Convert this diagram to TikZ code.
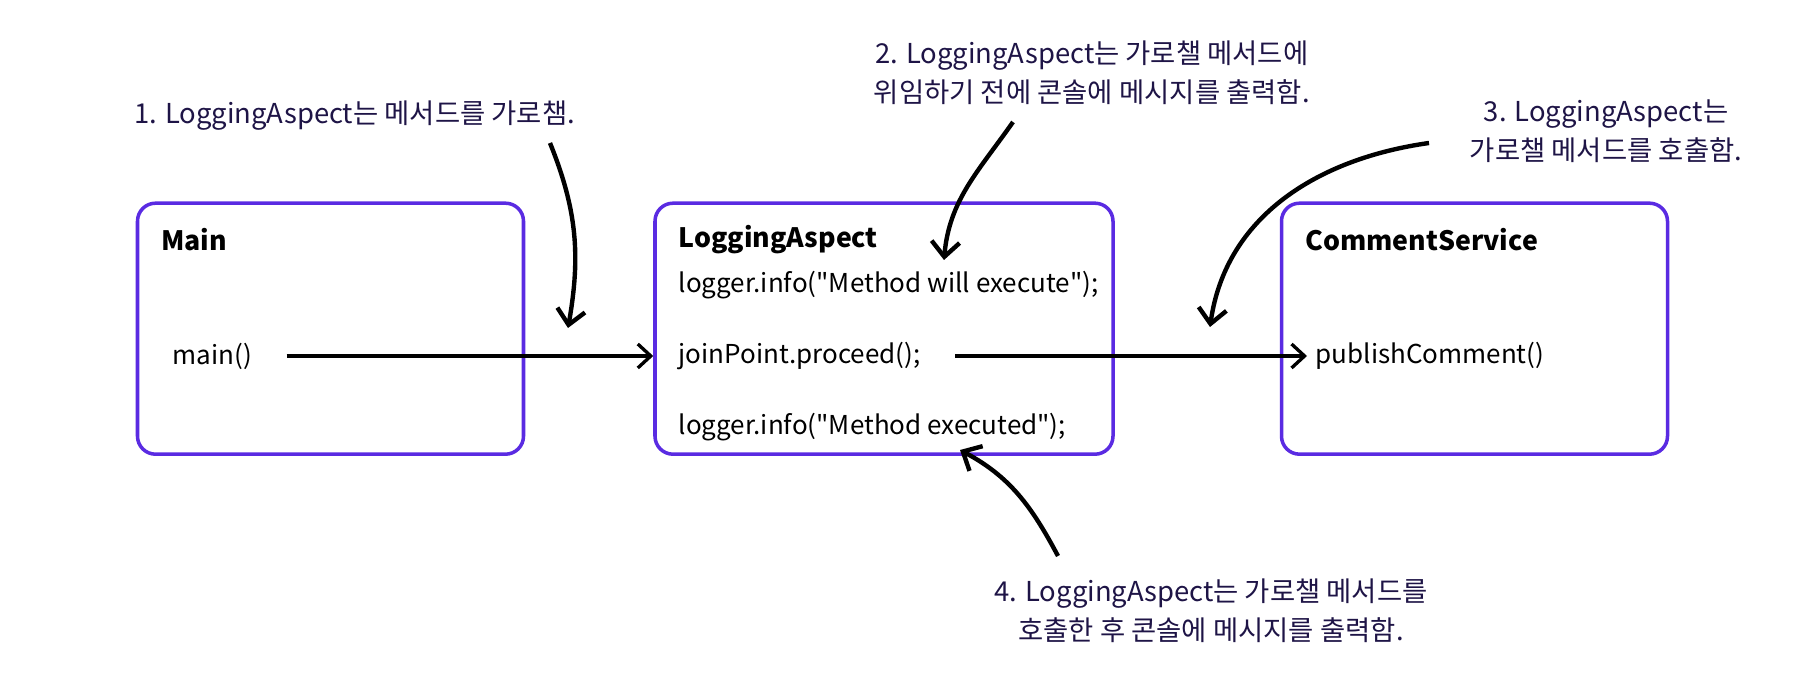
\documentclass[tikz,border=0pt]{standalone}
\usepackage{fontspec}
\setmainfont{Noto Sans CJK KR}
\usepackage{tikz}
\usepackage{xcolor}
\usetikzlibrary{arrows.meta}
\definecolor{boxpurple}{HTML}{5A2BE2}
\definecolor{notenavy}{HTML}{1E1446}

\begin{document}
\begin{tikzpicture}[
    box/.style={
        rectangle,
        rounded corners=0.18cm,
        line width=1pt,
        draw=boxpurple,
        minimum width=3.86cm,
        minimum height=2.51cm
    },
    title/.style={
        anchor=west,
        inner sep=0pt,
        font=\fontsize{7.6pt}{9pt}\selectfont\bfseries
    },
    code/.style={
        anchor=west,
        inner sep=0pt,
        font=\fontsize{7.4pt}{9pt}\selectfont
    },
    note/.style={
        align=center,
        inner sep=0pt,
        text=notenavy,
        font=\fontsize{7.8pt}{11.2pt}\selectfont
    },
    arrow/.style={-{Straight Barb[length=1.3mm,width=2.4mm]}, line width=0.95pt},
    curved/.style={-{Straight Barb[length=1.5mm,width=2.8mm]}, line width=1.25pt}
]
\useasboundingbox (0,0) rectangle (18.12,-6.82);

% Boxes
\node[box] (main) at (3.305,-3.287) {};
\node[box, minimum width=4.58cm] (aspect) at (8.84,-3.287) {};
\node[box] (service) at (14.745,-3.287) {};

% Box texts
\node[title] (maintitle) at (1.606,-2.40) {Main};
\node[code] (mainfn) at (1.72,-3.56) {main()};

\node[title] (aspecttitle) at (6.78,-2.40) {LoggingAspect};
\node[code] (before) at (6.78,-2.85) {logger.info(\textquotedbl Method will execute\textquotedbl);};
\node[code] (proceed) at (6.78,-3.56) {joinPoint.proceed();};
\node[code] (after) at (6.78,-4.276) {logger.info(\textquotedbl Method executed\textquotedbl);};

\node[title] (servicetitle) at (13.047,-2.40) {CommentService};
\node[code] (publish) at (13.15,-3.56) {publishComment()};

% Notes
\node[note] (note1) at (3.545,-1.156) {1. LoggingAspect는 메서드를 가로챔.};
\node[note] (note2) at (10.918,-0.727) {2. LoggingAspect는 가로챌 메서드에\\위임하기 전에 콘솔에 메시지를 출력함.};
\node[note] (note3) at (16.06,-1.315) {3. LoggingAspect는\\가로챌 메서드를 호출함.};
\node[note] (note4) at (12.11,-6.108) {4. LoggingAspect는 가로챌 메서드를\\호출한 후 콘솔에 메시지를 출력함.};

% Arrow ends
\coordinate (n1from) at (5.50,-1.43);
\coordinate (n1to) at (5.68,-3.28);
\coordinate (n2from) at (10.13,-1.22);
\coordinate (n2to) at (9.44,-2.60);
\coordinate (n3from) at (14.29,-1.43);
\coordinate (n3to) at (12.10,-3.27);
\coordinate (n4from) at (10.58,-5.56);
\coordinate (n4to) at (9.60,-4.50);

% Calls
\draw[arrow, shorten <=0.34cm] (mainfn.east) -- (mainfn.east -| aspect.west);
\draw[arrow, shorten <=0.34cm, shorten >=0.08cm] (proceed.east) -- (publish.west);

% Note arrows
\draw[curved] (n1from) to[out=-68, in=80] (n1to);
\draw[curved] (n2from) to[out=-125, in=85] (n2to);
\draw[curved] (n3from) to[out=188, in=82] (n3to);
\draw[curved] (n4from) to[out=118, in=-28] (n4to);

\end{tikzpicture}
\end{document}
